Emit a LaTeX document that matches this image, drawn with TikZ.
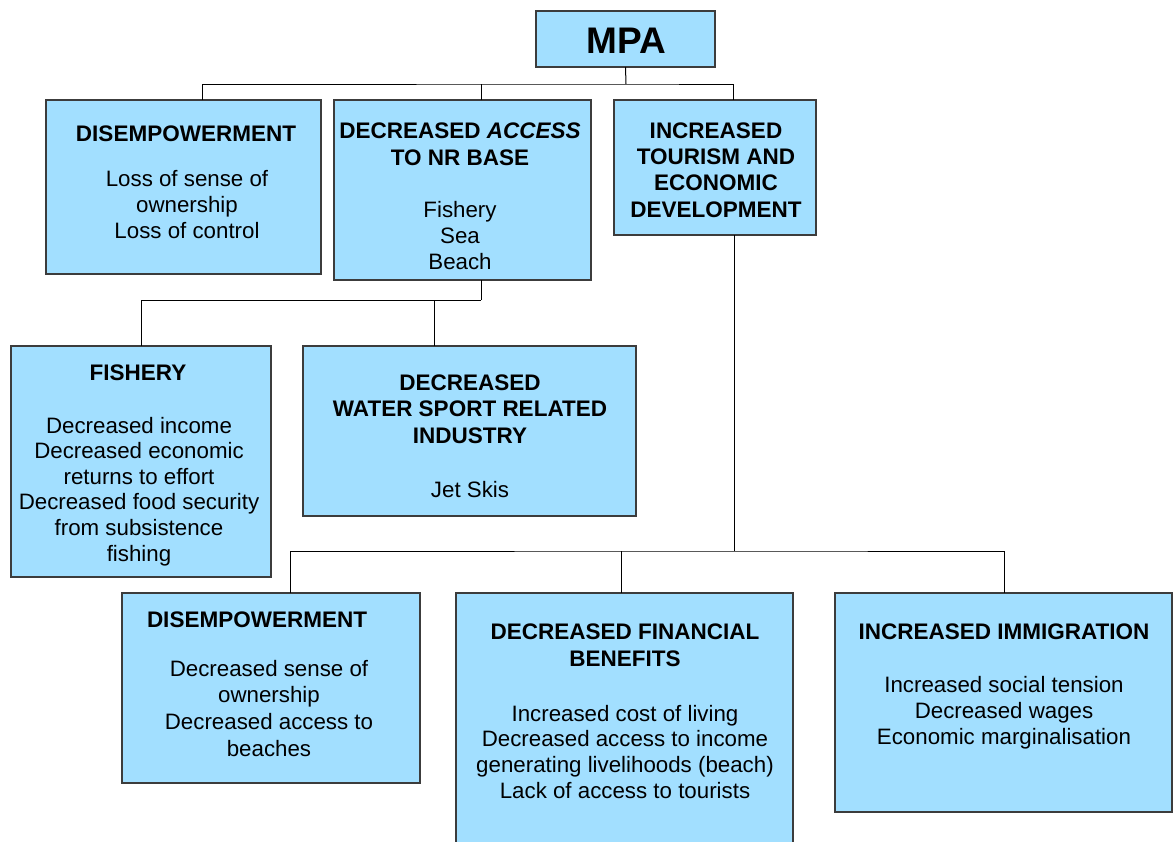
\documentclass[tikz,border=0pt]{standalone}
\usepackage{fontspec}
\setmainfont{Liberation Sans}
\definecolor{boxfill}{RGB}{162,223,255}
\definecolor{boxline}{RGB}{60,60,60}
\begin{document}
\begin{tikzpicture}[x=1pt,y=-1pt,
  box/.style={draw=boxline,fill=boxfill,line width=1.3pt,anchor=north west,inner sep=0pt,outer sep=0pt},
  conn/.style={draw=black,line width=1pt},
  ttl/.style={anchor=base,align=center,inner sep=0pt,font=\fontsize{22.5}{26.3}\selectfont\bfseries},
  bdy/.style={anchor=base,align=center,inner sep=0pt,font=\fontsize{22.3}{25.6}\selectfont}]
\useasboundingbox (0,0) rectangle (1173,841);
% boxes
\node[box,minimum width=179pt,minimum height=56pt] (mpa) at (536,11) {};
\node[box,minimum width=275pt,minimum height=174pt] (dis1) at (46,100) {};
\node[box,minimum width=257pt,minimum height=180pt] (acc) at (334,100) {};
\node[box,minimum width=202pt,minimum height=135pt] (tour) at (614,100) {};
\node[box,minimum width=260pt,minimum height=231pt] (fish) at (11,346) {};
\node[box,minimum width=333pt,minimum height=170pt] (water) at (303,346) {};
\node[box,minimum width=298pt,minimum height=190pt] (dis2) at (122,593) {};
\node[box,minimum width=337pt,minimum height=260pt] (fin) at (456,593) {};
\node[box,minimum width=337pt,minimum height=219pt] (imm) at (835,593) {};
% texts (anchor base = baseline of last line)
\node[anchor=base,inner sep=0pt,font=\fontsize{37}{40}\selectfont\bfseries] (tmpa) at (626,53) {MPA};
\node[ttl] (tdis1) at (186,141) {DISEMPOWERMENT};
\node[bdy] (bdis1) at (187,238) {Loss of sense of\\ownership\\Loss of control};
\node[ttl] (tacc) at (460,165) {DECREASED \textit{ACCESS}\\TO NR BASE};
\node[bdy] (bacc) at (460,269) {Fishery\\Sea\\Beach};
\node[ttl] (ttour) at (716,217) {INCREASED\\TOURISM AND\\ECONOMIC\\DEVELOPMENT};
\node[ttl] (tfish) at (138,380) {FISHERY};
\node[bdy] (bfish) at (139,561) {Decreased income\\Decreased economic\\returns to effort\\Decreased food security\\from subsistence\\fishing};
\node[ttl] (twater) at (470,443) {DECREASED\\WATER SPORT RELATED\\INDUSTRY};
\node[bdy] (bwater) at (470,497) {Jet Skis};
\node[ttl] (tdis2) at (257,627) {DISEMPOWERMENT};
\node[bdy,font=\fontsize{22.3}{26.6}\selectfont] (bdis2) at (269,756) {Decreased sense of\\ownership\\Decreased access to\\beaches};
\node[ttl] (tfin) at (625,666) {DECREASED FINANCIAL\\BENEFITS};
\node[bdy] (bfin) at (625,798) {Increased cost of living\\Decreased access to income\\generating livelihoods (beach)\\Lack of access to tourists};
\node[ttl] (timm) at (1004,639) {INCREASED IMMIGRATION};
\node[bdy] (bimm) at (1004,744) {Increased social tension\\Decreased wages\\Economic marginalisation};
% connector points
\coordinate (b1) at (626,84);
\coordinate (d1t) at (202,100);
\coordinate (act) at (481,100);
\coordinate (tot) at (733,100);
\coordinate (acb) at (481,280);
\coordinate (b2) at (481,300);
\coordinate (fit) at (141,346);
\coordinate (wat) at (434,346);
\coordinate (tob) at (734,235);
\coordinate (b3) at (734,551);
\coordinate (d2t) at (290,593);
\coordinate (fnt) at (621,593);
\coordinate (imt) at (1004,593);
% connectors
\draw[conn] (mpa.south) -- (b1);
\draw[conn] (d1t) |- (b1) -| (tot);
\draw[conn] (act) -- (act |- b1);
\draw[conn] (acb) -- (b2);
\draw[conn] (fit) |- (b2);
\draw[conn] (wat) -- (wat |- b2);
\draw[conn] (tob) -- (b3);
\draw[conn] (d2t) |- (b3) -| (imt);
\draw[conn] (fnt) -- (fnt |- b3);
\end{tikzpicture}
\end{document}
